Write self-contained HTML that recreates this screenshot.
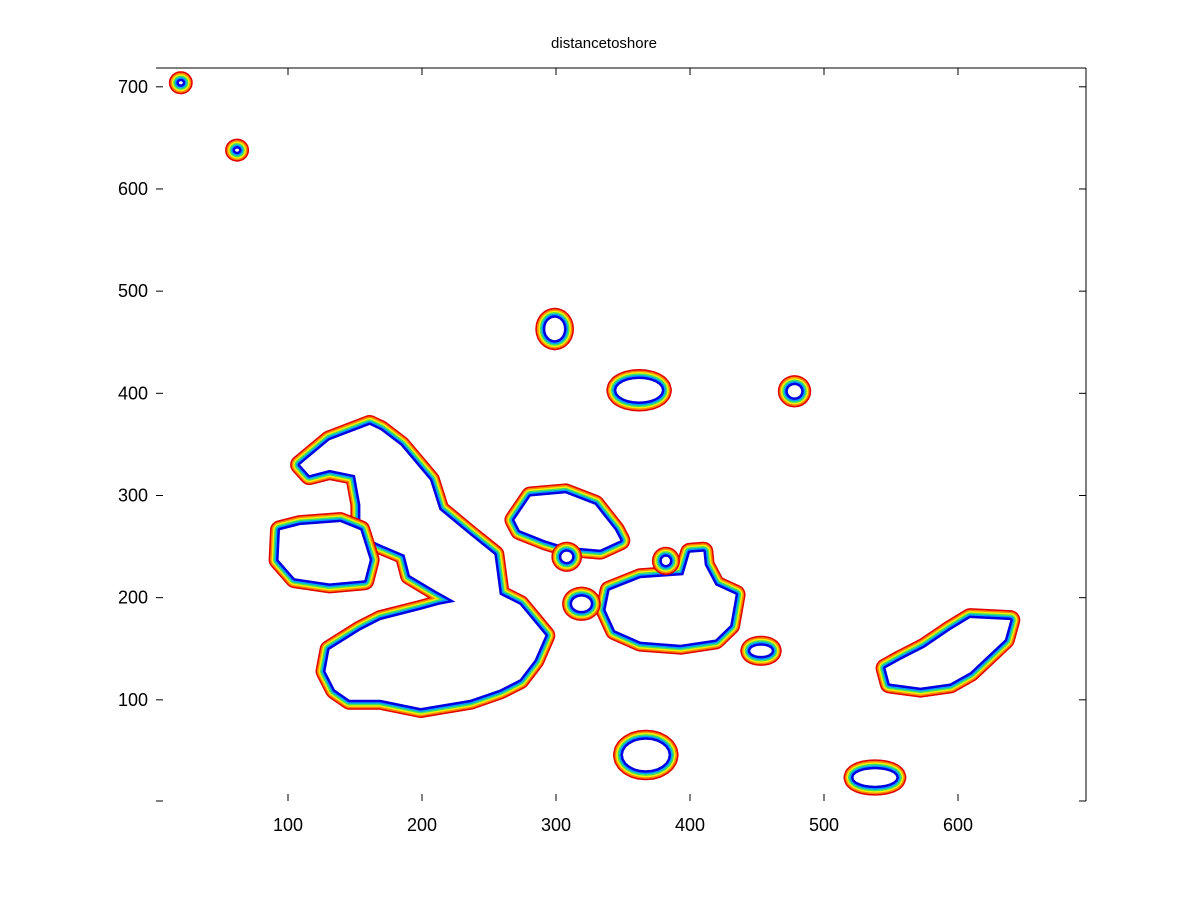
<!DOCTYPE html>
<html><head><meta charset="utf-8"><style>
body{margin:0;background:#fff}
svg text{font-family:"Liberation Sans",sans-serif}
</style></head><body>
<svg id="chart" width="1200" height="900" xmlns="http://www.w3.org/2000/svg">
<rect width="1200" height="900" fill="#fff"/>
<text x="604" y="48" text-anchor="middle" font-size="15">distancetoshore</text>
<g id="islands"></g>
<g id="axes"></g>
</svg>
<script>
const xTicks=[100,200,300,400,500,600];
const yTicks=[100,200,300,400,500,600,700];
const polyIslands=[
 {name:'isabela',pts:[[109,330],[131,354],[161,369],[169,364],[184,349],[206,315],[213,286],[236,261],[254,242],[258,203],[273,193],[292,163],[284,139],[273,120],[258,110],[236,100],[213,95],[199,92],[169,100],[146,100],[135,110],[128,128],[131,149],[154,168],[169,178],[199,188],[213,193],[225,196],[210,207],[191,222],[187,242],[169,252],[154,261],[154,291],[150,320],[131,325],[116,320]]},
 {name:'fernandina',pts:[[94,266],[109,271],[139,274],[154,266],[161,237],[157,217],[131,214],[105,219],[93,237]]},
 {name:'santa-cruz',pts:[[340,207],[363,219],[395,222],[400,244],[410,245],[411,232],[419,212],[434,203],[430,173],[419,159],[393,154],[363,157],[344,168],[337,188]]},
 {name:'santiago',pts:[[269,276],[281,299],[307,302],[329,291],[344,266],[348,256],[333,247],[307,250],[292,256],[273,266]]},
 {name:'san-cristobal',pts:[[546,131],[557,139],[575,151],[594,168],[609,180],[639,178],[635,159],[609,127],[594,116],[572,112],[549,116]]}
];
const ellipseCx=[20,62,299,362,478,308,382,319,453,367,538];
const ellipseCy=[704,638,463,403,402,240,236,194,148,46,24];
const ellipseRx=[1.5,1.5,7,17,5,4,3,7,8,17,16];
const ellipseRy=[1.5,1.5,11,11,6,5,4,7,5,15,8];
const X=v=>154+v*1.34, Y=v=>802-v*1.0217;
const NS='http://www.w3.org/2000/svg';
const layers=[['#e00000',20],['#ff8000',17],['#f0f000',14],['#40e060',11],['#00a0ff',8],['#0000e0',5]];
const g=document.getElementById('islands');
function shape(d,name){
  layers.forEach(([c,w])=>{
    const p=document.createElementNS(NS,'path');
    p.setAttribute('d',d);p.setAttribute('fill','none');p.setAttribute('stroke',c);
    p.setAttribute('stroke-width',w);p.setAttribute('stroke-linejoin','round');
    
    
    g.appendChild(p);
  });
  const f=document.createElementNS(NS,'path');
  f.setAttribute('d',d);f.setAttribute('fill','#fff');
  
  
  g.appendChild(f);
}
polyIslands.forEach(is=>{
  const d='M'+is.pts.map(p=>X(p[0]).toFixed(1)+','+Y(p[1]).toFixed(1)).join('L')+'Z';
  shape(d,is.name);
});
ellipseCx.forEach((cx,i)=>{
  const pts=[];
  for(let k=0;k<24;k++){const a=k/24*2*Math.PI;pts.push([cx+ellipseRx[i]*Math.cos(a),ellipseCy[i]+ellipseRy[i]*Math.sin(a)]);}
  const d='M'+pts.map(p=>X(p[0]).toFixed(1)+','+Y(p[1]).toFixed(1)).join('L')+'Z';
  shape(d,'islet-'+i);
});
const ax=document.getElementById('axes');
function el(tag,attrs,name,txt){const e=document.createElementNS(NS,tag);for(const k in attrs)e.setAttribute(k,attrs[k]);
 
 
 if(txt!==undefined)e.textContent=txt;ax.appendChild(e);return e;}
el('line',{x1:156,y1:68,x2:1086,y2:68,stroke:'#000'},'top-border');
el('line',{x1:1086,y1:68,x2:1086,y2:801,stroke:'#000'},'right-border');
el('line',{x1:156,y1:801,x2:163,y2:801,stroke:'#000'},'bottom-left-tick');
el('line',{x1:1079,y1:801,x2:1086,y2:801,stroke:'#000'},'bottom-right-tick');
xTicks.forEach(t=>{const x=X(t);
 el('line',{x1:x,y1:801,x2:x,y2:794,stroke:'#000'},'x-tick');
 el('line',{x1:x,y1:68,x2:x,y2:75,stroke:'#000'},'x-tick-top');
 el('text',{x:x,y:831,'text-anchor':'middle','font-size':18},'x-tick-label',String(t));});
yTicks.forEach(t=>{const y=Y(t);
 el('line',{x1:156,y1:y,x2:163,y2:y,stroke:'#000'},'y-tick');
 el('line',{x1:1079,y1:y,x2:1086,y2:y,stroke:'#000'},'y-tick-right');
 el('text',{x:148,y:y+6,'text-anchor':'end','font-size':18},'y-tick-label',String(t));});
</script>
</body></html>
